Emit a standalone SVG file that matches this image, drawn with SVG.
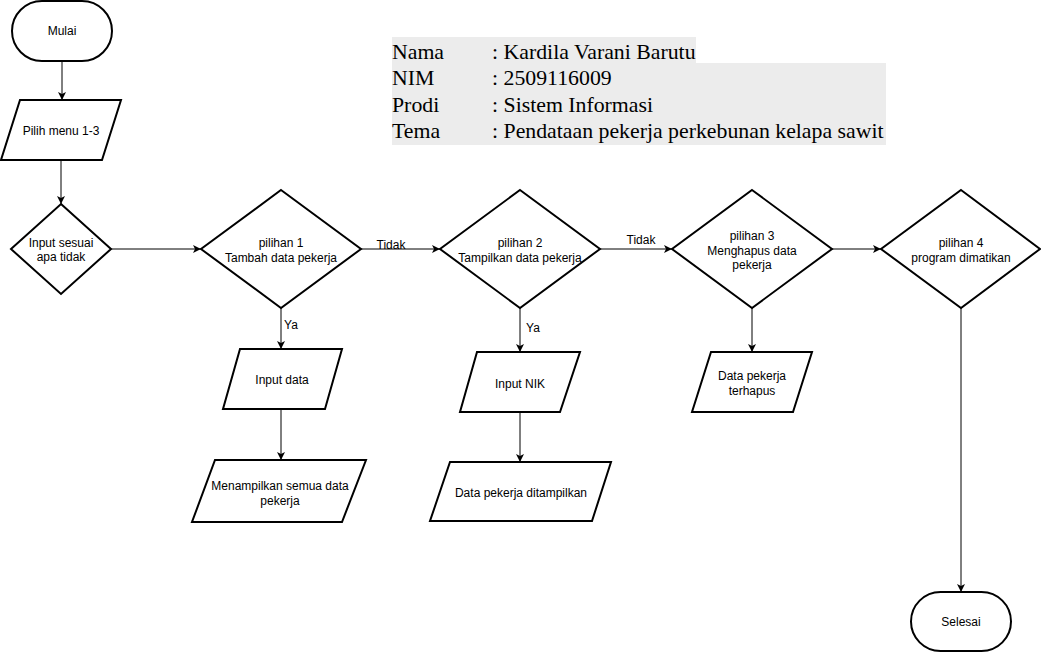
<svg xmlns="http://www.w3.org/2000/svg" width="1041" height="652" viewBox="0 0 1041 652">
<style>
.n{fill:#fff;stroke:#000;stroke-width:2}
.t{font-family:"Liberation Sans",Arial,sans-serif;font-size:12px;fill:#000;text-anchor:middle}
.e{fill:none;stroke:#000;stroke-width:1}
.h{font-family:"Liberation Serif","Times New Roman",serif;font-size:21.8px;fill:#000}
</style>
<defs>
<marker id="a" markerWidth="10" markerHeight="10" refX="8" refY="4" orient="auto" markerUnits="userSpaceOnUse">
<path d="M0,0 L8,4 L0,8 L2,4 Z" fill="#000"/>
</marker>
</defs>
<rect width="1041" height="652" fill="#fff"/>
<g id="header">
<rect x="392" y="37" width="304" height="26" fill="#ececec"/>
<rect x="392" y="63" width="494" height="82" fill="#ececec"/>
<text class="h" x="392" y="59">Nama</text><text class="h" x="492" y="59">: Kardila Varani Barutu</text>
<text class="h" x="392" y="85">NIM</text><text class="h" x="492" y="85">: 2509116009</text>
<text class="h" x="392" y="112">Prodi</text><text class="h" x="492" y="112">: Sistem Informasi</text>
<text class="h" x="392" y="138">Tema</text><text class="h" x="492" y="138">: Pendataan pekerja perkebunan kelapa sawit</text>
</g>
<g id="edges">
<path class="e" d="M62,61 L62,100" marker-end="url(#a)"/>
<path class="e" d="M61,160 L61,204" marker-end="url(#a)"/>
<path class="e" d="M111,249 L201,249" marker-end="url(#a)"/>
<path class="e" d="M361,249 L440,249" marker-end="url(#a)"/>
<path class="e" d="M600,249 L672,249" marker-end="url(#a)"/>
<path class="e" d="M832,249 L881,249" marker-end="url(#a)"/>
<path class="e" d="M281,308 L281,349" marker-end="url(#a)"/>
<path class="e" d="M281,409 L281,460" marker-end="url(#a)"/>
<path class="e" d="M520,308 L520,352" marker-end="url(#a)"/>
<path class="e" d="M520,412 L520,462" marker-end="url(#a)"/>
<path class="e" d="M752,308 L752,352" marker-end="url(#a)"/>
<path class="e" d="M961,308 L961,592" marker-end="url(#a)"/>
<text class="t" x="391" y="249">Tidak</text>
<text class="t" x="641" y="244">Tidak</text>
<text class="t" x="291" y="329">Ya</text>
<text class="t" x="533" y="332">Ya</text>
</g>
<g id="mulai"><rect class="n" x="12" y="1" width="100" height="60" rx="30"/><text class="t" x="62" y="35">Mulai</text></g>
<g id="pilih"><polygon class="n" points="20,100 121,100 102,160 1,160"/><text class="t" x="61" y="135">Pilih menu 1-3</text></g>
<g id="d0"><polygon class="n" points="61,204 111,249 61,294 11,249"/><text class="t" x="61" y="247">Input sesuai</text><text class="t" x="61" y="261">apa tidak</text></g>
<g id="d1"><polygon class="n" points="281,190 361,249 281,308 201,249"/><text class="t" x="281" y="247">pilihan 1</text><text class="t" x="281" y="262">Tambah data pekerja</text></g>
<g id="d2"><polygon class="n" points="520,190 600,249 520,308 440,249"/><text class="t" x="520" y="247">pilihan 2</text><text class="t" x="520" y="262">Tampilkan data pekerja</text></g>
<g id="d3"><polygon class="n" points="752,190 832,249 752,308 672,249"/><text class="t" x="752" y="240">pilihan 3</text><text class="t" x="752" y="255">Menghapus data</text><text class="t" x="752" y="269">pekerja</text></g>
<g id="d4"><polygon class="n" points="961,190 1040,249 961,308 881,249"/><text class="t" x="961" y="247">pilihan 4</text><text class="t" x="961" y="262">program dimatikan</text></g>
<g id="inputdata"><polygon class="n" points="240,349 342,349 325,409 223,409"/><text class="t" x="282" y="384">Input data</text></g>
<g id="menampilkan"><polygon class="n" points="215,460 366,460 342,522 192,522"/><text class="t" x="280" y="490">Menampilkan semua data</text><text class="t" x="280" y="505">pekerja</text></g>
<g id="inputnik"><polygon class="n" points="477,352 580,352 560,412 460,412"/><text class="t" x="520" y="388">Input NIK</text></g>
<g id="ditampilkan"><polygon class="n" points="450,462 611,462 592,521 430,521"/><text class="t" x="521" y="497">Data pekerja ditampilkan</text></g>
<g id="terhapus"><polygon class="n" points="711,352 812,352 793,412 692,412"/><text class="t" x="752" y="380">Data pekerja</text><text class="t" x="752" y="395">terhapus</text></g>
<g id="selesai"><rect class="n" x="911" y="592" width="100" height="59" rx="29.5"/><text class="t" x="961" y="626">Selesai</text></g>
</svg>
